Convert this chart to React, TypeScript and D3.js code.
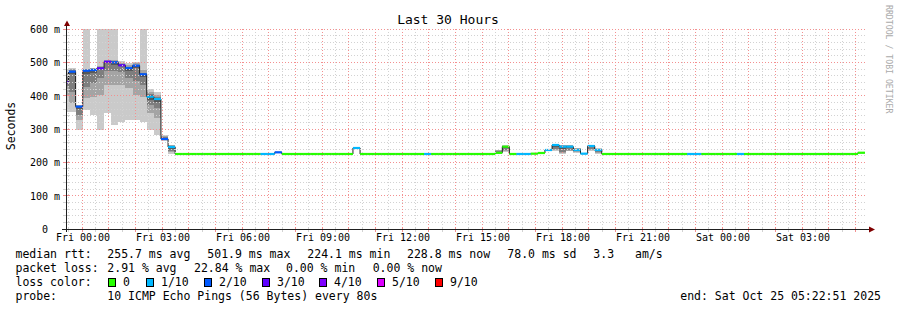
import React, { useEffect } from 'react';
import * as d3 from 'd3';

// ---------- data ----------
const chartTitle = 'Last 30 Hours';
const yAxisTitle = 'Seconds';
const sideCredit = 'RRDTOOL / TOBI OETIKER';
const graphStart = new Date(2025, 9, 23, 23, 22, 51);
const graphEnd = new Date(2025, 9, 25, 5, 22, 51);
const firstStepStart = new Date(2025, 9, 23, 23, 29, 10);
const stepSeconds = 960;

// median runs: [firstStep, lastStep, median ms, lost pings of 10]
const medianRuns: [number, number, number, number][] = [
  [-1, -1, 440, 3],
  [0, 0, 472, 2],
  [1, 1, 367, 2],
  [2, 2, 475, 2],
  [3, 3, 477, 2],
  [4, 4, 482, 3],
  [5, 5, 501.9, 3],
  [6, 6, 500, 2],
  [7, 7, 491, 3],
  [8, 8, 483, 2],
  [9, 9, 490, 2],
  [10, 10, 464, 2],
  [11, 11, 397, 1],
  [12, 12, 390, 1],
  [13, 13, 270, 2],
  [14, 14, 246, 1],
  [15, 26, 225, 0],
  [27, 28, 225, 1],
  [29, 29, 230, 2],
  [30, 39, 225, 0],
  [40, 40, 243, 1],
  [41, 49, 225, 0],
  [50, 50, 225, 1],
  [51, 59, 225, 0],
  [60, 60, 228.5, 0],
  [61, 61, 247, 0],
  [62, 62, 225, 0],
  [63, 64, 225, 1],
  [65, 65, 226, 0],
  [66, 66, 228, 0],
  [67, 67, 237, 1],
  [68, 68, 252, 1],
  [69, 69, 247, 1],
  [70, 70, 247, 1],
  [71, 71, 237, 1],
  [72, 72, 226, 1],
  [73, 73, 249, 1],
  [74, 74, 237, 1],
  [75, 86, 225, 0],
  [87, 88, 225, 1],
  [89, 93, 225, 0],
  [94, 94, 225, 1],
  [95, 110, 225, 0],
  [111, 111, 228.8, 0],
];

// smoke: [step, sorted ping rtts (ms)]
const smokeSteps: [number, number[]][] = [
  [-1, [350, 398, 428, 440, 455, 468, 480]],
  [0, [350, 378, 412, 465, 472, 477, 481, 483]],
  [1, [296, 326, 342, 360, 367, 369, 371, 373]],
  [2, [356, 392, 427, 465, 475, 478, 480, 650]],
  [3, [341, 396, 437, 469, 477, 480, 482, 484]],
  [4, [296, 402, 453, 482, 485, 488, 650]],
  [5, [347, 433, 473, 502, 505, 508, 650]],
  [6, [311, 433, 473, 493, 500, 503, 506, 650]],
  [7, [320, 433, 470, 491, 495, 499, 504]],
  [8, [326, 423, 453, 475, 483, 487, 492, 497]],
  [9, [326, 403, 443, 483, 490, 493, 497, 501]],
  [10, [322, 396, 432, 457, 464, 469, 477, 650]],
  [11, [296, 348, 373, 388, 397, 401, 405, 410, 420]],
  [12, [281, 333, 363, 381, 390, 393, 397, 401, 410]],
  [13, [264, 267, 269, 270, 271, 275, 279, 283]],
  [14, [226, 230, 235, 240, 246, 248, 249, 251, 253]],
  [60, [225, 226, 227, 228, 228, 229, 231, 233, 236, 238]],
  [61, [230, 234, 238, 242, 246, 247, 248, 249, 250, 251]],
  [68, [234, 236, 240, 246, 252, 253, 254, 255, 256]],
  [69, [225, 228, 232, 240, 247, 249, 250, 251, 252]],
  [70, [233, 235, 238, 242, 247, 249, 250, 251, 252]],
  [71, [229, 231, 233, 235, 237, 239, 241, 243, 244]],
  [73, [235, 237, 241, 245, 249, 250, 251, 252, 253]],
  [74, [226, 228, 232, 234, 237, 239, 240, 241, 242]],
];

const lossLabels = ['0', '1/10', '2/10', '3/10', '4/10', '5/10', '9/10'];
const lossColors = ['#26ff00', '#00b8ff', '#0059ff', '#5e00ff', '#7e00ff', '#dd00ff', '#ff0000'];
const yMajorTicks = [0, 100, 200, 300, 400, 500, 600];
const rttLabel = 'median rtt:';
const rttStats = ['255.7 ms avg', '501.9 ms max', '224.1 ms min', '228.8 ms now', '78.0 ms sd', '3.3', 'am/s'];
const lossLabel = 'packet loss:';
const lossStats = ['2.91 % avg', '22.84 % max', '0.00 % min', '0.00 % now'];
const lossColorLabel = 'loss color:';
const probeLabel = 'probe:';
const probeText = '10 ICMP Echo Pings (56 Bytes) every 80s';
const endText = 'end: Sat Oct 25 05:22:51 2025';

// ---------- layout ----------
const W = 897;
const H = 310;
const X0 = 65.7;
const X1 = 865.7;
const Y0 = 229;
const Y1 = 29;
const FONT = '"DejaVu Sans Mono", monospace';
const rttX = [107.3, 207.3, 307.3, 407, 507.3, 593.3, 635];
const lossX = [107.3, 194, 286, 372.7];
const boxX = [108, 146, 204, 262, 319, 377, 435];

function lossIndex(l: number) {
  return l >= 6 ? 6 : l;
}

export default function App() {
  useEffect(() => {
    document.body.style.margin = '0';
  }, []);

  const x = d3.scaleTime().domain([graphStart, graphEnd]).range([X0, X1]);
  const y = d3.scaleLinear().domain([0, 600]).range([Y0, Y1]);
  const stepTime = (i: number) => new Date(firstStepStart.getTime() + i * stepSeconds * 1000);

  const steps: { i: number; median: number; loss: number }[] = [];
  medianRuns.forEach(([a, b, m, l]) => {
    for (let i = a; i <= b; i++) steps.push({ i, median: m, loss: l });
  });

  const linePts: [number, number][] = steps.map((s) => [x(stepTime(s.i)), y(s.median)]);
  const last = steps[steps.length - 1];
  linePts.push([x(stepTime(last.i + 1)), y(last.median)]);
  const medianPath = d3.line().curve(d3.curveStepAfter)(linePts) || '';

  const minorX = d3.timeMinute
    .every(30)!
    .range(graphStart, graphEnd)
    .filter((d) => d.getMinutes() !== 0);
  const majorX = d3.timeHour.range(graphStart, graphEnd);
  const labelX = d3.timeHour.every(3)!.range(graphStart, graphEnd);
  const fmt = d3.timeFormat('%a %H:%M');
  const minorY = d3.range(20, 600, 20).filter((v) => v % 100 !== 0);

  const px = (v: number) => Math.round(v) + 0.5;
  const gridMinor = '#d2d2d2';
  const gridMajor = '#f39090';

  return (
    <svg
      width={W}
      height={H}
      viewBox={`0 0 ${W} ${H}`}
      style={{ position: 'absolute', left: 0, top: 0, background: '#fff' }}
      fontFamily={FONT}
    >
      <rect x={0} y={0} width={W} height={H} fill="#ffffff" />
      <defs>
        <clipPath id="plot">
          <rect x={66} y={Y1} width={800} height={Y0 - Y1} />
        </clipPath>
      </defs>

      {/* smoke */}
      <g clipPath="url(#plot)" shapeRendering="crispEdges">
        {smokeSteps.map(([i, pings]) => {
          const n = pings.length;
          const xa = x(stepTime(i));
          const xb = x(stepTime(i + 1));
          const rects = [];
          for (let k = 0; k < Math.floor(n / 2); k++) {
            const lo = pings[k];
            const hi = pings[n - 1 - k];
            const c = Math.round(202 - 38 * k);
            rects.push(
              <rect
                key={`${i}-${k}`}
                x={xa}
                width={xb - xa}
                y={y(hi)}
                height={y(lo) - y(hi)}
                fill={`rgb(${c},${c},${c})`}
              />
            );
          }
          return <g key={i}>{rects}</g>;
        })}
      </g>

      {/* median line */}
      <g clipPath="url(#plot)">
        <path d={medianPath} fill="none" stroke="#202020" strokeWidth={1} />
        {steps.map((s) => {
          const xa = x(stepTime(s.i));
          const xb = x(stepTime(s.i + 1));
          return (
            <rect
              key={s.i}
              x={xa}
              width={xb - xa}
              y={y(s.median) - 1.1}
              height={2.2}
              fill={lossColors[lossIndex(s.loss)]}
            />
          );
        })}
      </g>

      {/* grid */}
      <g strokeWidth={1} strokeDasharray="1,2" fill="none" shapeRendering="crispEdges">
        {minorY.map((v) => (
          <line key={`my${v}`} x1={66} x2={866} y1={px(y(v) - 0.5)} y2={px(y(v) - 0.5)} stroke={gridMinor} />
        ))}
        {minorX.map((d) => (
          <line key={`mx${+d}`} x1={px(x(d) - 0.5)} x2={px(x(d) - 0.5)} y1={Y1} y2={Y0} stroke={gridMinor} />
        ))}
        {yMajorTicks
          .filter((v) => v > 0)
          .map((v) => (
            <line key={`My${v}`} x1={66} x2={866} y1={px(y(v) - 0.5)} y2={px(y(v) - 0.5)} stroke={gridMajor} />
          ))}
        {majorX.map((d) => (
          <line key={`Mx${+d}`} x1={px(x(d) - 0.5)} x2={px(x(d) - 0.5)} y1={Y1} y2={Y0} stroke={gridMajor} />
        ))}
      </g>

      {/* axis ticks */}
      <g strokeWidth={1} shapeRendering="crispEdges">
        {minorX.map((d) => (
          <line key={`tx${+d}`} x1={px(x(d) - 0.5)} x2={px(x(d) - 0.5)} y1={Y0 - 2} y2={Y0 + 3} stroke={gridMinor} />
        ))}
        {majorX.map((d) => (
          <line key={`Tx${+d}`} x1={px(x(d) - 0.5)} x2={px(x(d) - 0.5)} y1={Y0 - 2} y2={Y0 + 3} stroke={gridMajor} />
        ))}
        {minorY.map((v) => (
          <line key={`ty${v}`} x1={63} x2={69} y1={px(y(v) - 0.5)} y2={px(y(v) - 0.5)} stroke={gridMinor} />
        ))}
        {yMajorTicks
          .filter((v) => v > 0)
          .map((v) => (
            <line key={`Ty${v}`} x1={63} x2={69} y1={px(y(v) - 0.5)} y2={px(y(v) - 0.5)} stroke={gridMajor} />
          ))}
      </g>

      {/* axes */}
      <line x1={62} x2={869} y1={Y0 + 0.5} y2={Y0 + 0.5} stroke="#202020" strokeWidth={1} shapeRendering="crispEdges" />
      <line x1={66.5} x2={66.5} y1={26} y2={Y0 + 3} stroke="#202020" strokeWidth={1} shapeRendering="crispEdges" />
      <path d={`M64,26 L67,20.5 L70,26 Z`} fill="#7f0000" />
      <path d={`M869,226.5 L875,229.5 L869,232.5 Z`} fill="#7f0000" />

      {/* y labels */}
      <g fontSize={10} fill="#000">
        {yMajorTicks.map((v) => (
          <text key={v} x={v === 0 ? 48 : 60} y={Math.round(y(v)) + 4} textAnchor="end">
            {v === 0 ? '0' : `${v} m`}
          </text>
        ))}
      </g>

      {/* x labels */}
      <g fontSize={10} fill="#000">
        {labelX.map((d) => (
          <text key={+d} x={x(d) + 0.8} y={241} textAnchor="middle">
            {fmt(d)}
          </text>
        ))}
      </g>

      {/* title */}
      <text x={448} y={24} textAnchor="middle" fontSize={13} fill="#000">
        {chartTitle}
      </text>
      <text transform="translate(15,126) rotate(-90)" textAnchor="middle" fontSize={11.5} fill="#000">
        {yAxisTitle}
      </text>
      <text transform="translate(885.5,5) rotate(90)" fontSize={8.2} fill="#aaaaaa">
        {sideCredit}
      </text>

      {/* legend */}
      <g fontSize={11.5} fill="#000">
        <text x={15.5} y={258}>{rttLabel}</text>
        {rttStats.map((t, k) => (
          <text key={t} x={rttX[k]} y={258}>
            {t}
          </text>
        ))}
        <text x={15.5} y={272}>{lossLabel}</text>
        {lossStats.map((t, k) => (
          <text key={t} x={lossX[k]} y={272}>
            {t}
          </text>
        ))}
        <text x={15.5} y={286}>{lossColorLabel}</text>
        {lossLabels.map((t, k) => (
          <g key={t}>
            <rect x={boxX[k] + 0.5} y={278.5} width={7} height={8} fill={lossColors[k]} stroke="#000" strokeWidth={1} shapeRendering="crispEdges" />
            <text x={boxX[k] + 15} y={286}>
              {t}
            </text>
          </g>
        ))}
        <text x={15.5} y={300}>{probeLabel}</text>
        <text x={107.3} y={300}>{probeText}</text>
        <text x={881} y={300} textAnchor="end">
          {endText}
        </text>
      </g>
    </svg>
  );
}
